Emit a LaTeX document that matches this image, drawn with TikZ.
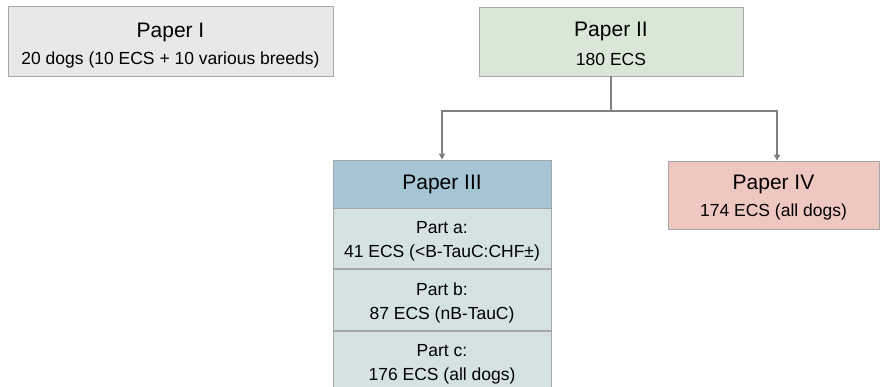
\documentclass[tikz,border=0pt]{standalone}
\usepackage{fontspec}
\setmainfont{Liberation Sans}
\usetikzlibrary{positioning,arrows.meta}

\definecolor{boxline}{HTML}{A6A6A6}
\definecolor{arrowgray}{HTML}{7F7F7F}
\definecolor{fillone}{HTML}{E8E8E8}
\definecolor{filltwo}{HTML}{D9E8D6}
\definecolor{fillthreehead}{HTML}{A5C4D4}
\definecolor{fillthreepart}{HTML}{D5E2E4}
\definecolor{fillfour}{HTML}{EFC7C1}

\newcommand{\papertitle}[2][0pt]{{\fontsize{21}{23}\selectfont\rule{0pt}{#1}#2}}
\newcommand{\partlift}{\rule{0pt}{17.5pt}}

\tikzset{
	paperbox/.style={rectangle,draw=boxline,line width=0.8pt,align=center,inner sep=0pt,
		font=\fontsize{17.5}{24}\selectfont},
	link/.style={draw=arrowgray,line width=1.6pt,-{Triangle[length=6pt,width=6pt]}}
}

\begin{document}
\begin{tikzpicture}[x=1pt,y=-1pt]
	\useasboundingbox (0,0) rectangle (880,386);
	\node at (170.5, 41) [paperbox,fill=fillone,minimum width=325,minimum height=70] (paper_i)
		{\papertitle[23pt]{Paper I}\\[3pt]20 dogs (10 ECS + 10 various breeds)};
	\node at (611, 41.5) [paperbox,fill=filltwo,minimum width=264,minimum height=69] (paper_ii)
		{\papertitle[20pt]{Paper II}\\[5pt]180 ECS};
	\node at (442, 184)  [paperbox,fill=fillthreehead,minimum width=218,minimum height=48] (paper_iii)
		{\papertitle{Paper III}};
	\node [paperbox,fill=fillthreepart,minimum width=218,minimum height=60,below=0pt of paper_iii] (part_a)
		{\partlift Part a:\\41 ECS (<B-TauC:CHF±)};
	\node [paperbox,fill=fillthreepart,minimum width=218,minimum height=61,below=0pt of part_a] (part_b)
		{\partlift Part b:\\87 ECS (nB-TauC)};
	\node [paperbox,fill=fillthreepart,minimum width=218,minimum height=61,below=0pt of part_b] (part_c)
		{\partlift Part c:\\176 ECS (all dogs)};
	\node at (773.5, 195) [paperbox,fill=fillfour,minimum width=211,minimum height=68] (paper_iv)
		{\papertitle[20pt]{Paper IV}\\[3pt]174 ECS (all dogs)};

	\coordinate (split) at (paper_ii.south |- 0,111);
	\draw[draw=arrowgray,line width=1.6pt] (paper_ii.south) -- (split);
	\draw[link] (split) -| (paper_iii.north);
	\draw[link] (split) -| ([xshift=3.5pt]paper_iv.north);
\end{tikzpicture}
\end{document}
